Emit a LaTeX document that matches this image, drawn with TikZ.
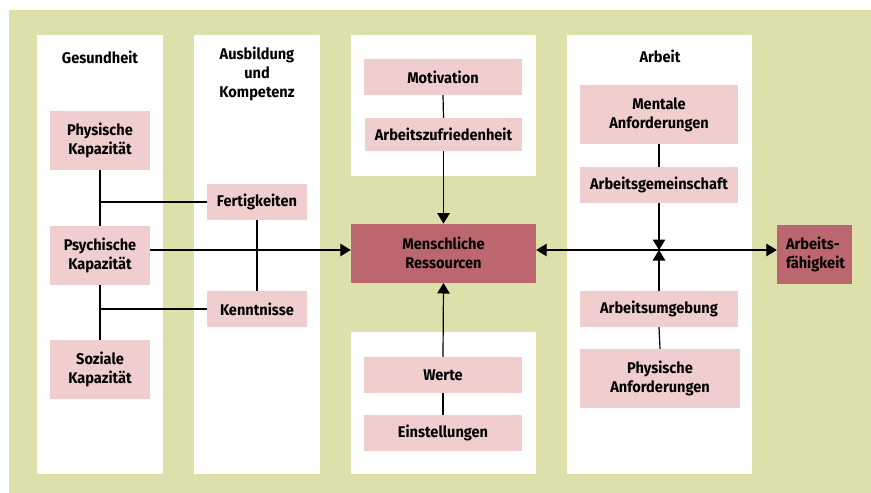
\documentclass[tikz,border=0pt]{standalone}
\usepackage{fontspec}
\setmainfont{Fira Sans}[FakeStretch=0.94]
\usetikzlibrary{arrows.meta}
\definecolor{bggreen}{RGB}{222,224,171}
\definecolor{pinkbox}{RGB}{239,206,205}
\definecolor{rosebox}{RGB}{188,102,112}
\tikzset{
  lab/.style={font=\bfseries\fontsize{15.5}{19}\selectfont, align=center, inner sep=0pt},
  pbox/.style={lab, fill=pinkbox},
  rbox/.style={lab, fill=rosebox},
  col/.style={fill=white},
  conn/.style={line width=1.2pt, black},
  arr/.style={conn, -{Triangle[length=10.5pt,width=12.5pt]}},
  darr/.style={conn, {Triangle[length=10.5pt,width=12.5pt]}-{Triangle[length=10.5pt,width=12.5pt]}}
}
\begin{document}
\begin{tikzpicture}[x=1pt,y=-1pt]
\useasboundingbox (0,0) rectangle (871,493);
\fill[white] (0,0) rectangle (871,493);
\fill[bggreen] (9,10) rectangle (871,493);
% columns
\fill[col] (37,35) rectangle (163,474);
\fill[col] (194,35) rectangle (320,474);
\fill[col] (351,35) rectangle (536,176);
\fill[col] (351,332) rectangle (536,474);
\fill[col] (567,35) rectangle (752,474);
% headers
\node[lab] (hges) at (100,57) {Gesundheit};
\node[lab] (haus) at (257,74) {Ausbildung\\und\\Kompetenz};
\node[lab] (harb) at (660,56) {Arbeit};
% boxes
\node[pbox, minimum width=100pt, minimum height=59pt] (phys) at (100,140.5) {Physische\\Kapazität};
\node[pbox, minimum width=100pt, minimum height=59pt] (psych) at (100,255.3) {Psychische\\Kapazität};
\node[pbox, minimum width=100pt, minimum height=59pt] (soz) at (100,369.3) {Soziale\\Kapazität};
\node[pbox, minimum width=100pt, minimum height=36pt] (fert) at (257,202) {Fertigkeiten};
\node[pbox, minimum width=100pt, minimum height=36pt] (kenn) at (257,309) {Kenntnisse};
\node[pbox, minimum width=158pt, minimum height=36pt] (mot) at (443,77) {Motivation};
\node[pbox, minimum width=157pt, minimum height=33pt] (zuf) at (443.5,134.5) {Arbeitszufriedenheit};
\node[rbox, minimum width=185pt, minimum height=59pt] (mensch) at (443.5,253.3) {Menschliche\\Ressourcen};
\node[pbox, minimum width=158pt, minimum height=36pt] (werte) at (443,375) {Werte};
\node[pbox, minimum width=158pt, minimum height=36pt] (einst) at (443,433) {Einstellungen};
\node[pbox, minimum width=158pt, minimum height=59pt] (ment) at (659,114.5) {Mentale\\Anforderungen};
\node[pbox, minimum width=158pt, minimum height=36pt] (gem) at (659,185) {Arbeitsgemeinschaft};
\node[pbox, minimum width=158pt, minimum height=36pt] (ugeb) at (659,309) {Arbeitsumgebung};
\node[pbox, minimum width=160pt, minimum height=59pt] (panf) at (660,378.5) {Physische\\Anforderungen};
\node[rbox, minimum width=75pt, minimum height=59pt, align=left, text width=57pt] (arbf) at (814.5,254.3) {Arbeits-\\fähigkeit};
% connectors
\coordinate (hy) at (0,250);
\coordinate (jn) at (gem.south |- hy);
\draw[conn] (phys.south) -- (psych.north);
\draw[conn] (psych.south) -- (soz.north);
\draw[conn] (fert.west) -- (fert.west -| phys.south);
\draw[conn] (kenn.west) -- (kenn.west -| phys.south);
\draw[conn] (fert.south) -- (kenn.north);
\draw[arr] (psych.east |- hy) -- (mensch.west |- hy);
\draw[conn] (mot.south) -- (zuf.north);
\draw[arr] (zuf.south) -- (mensch.north);
\draw[arr] (werte.north) -- (mensch.south);
\draw[conn] (werte.south) -- (einst.north);
\draw[darr] (mensch.east |- hy) -- (arbf.west |- hy);
\draw[conn] (ment.south) -- (gem.north);
\draw[arr] (gem.south) -- (jn);
\draw[arr] (ugeb.north) -- (jn);
\draw[conn] (ugeb.south) -- (panf.north);
\end{tikzpicture}
\end{document}
